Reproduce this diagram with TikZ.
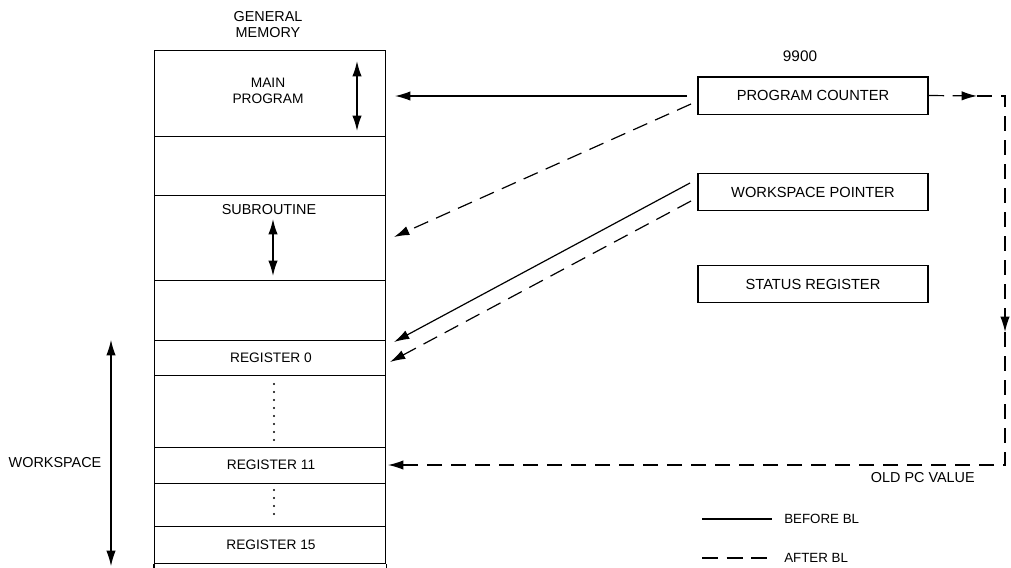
\documentclass[tikz,border=0pt]{standalone}
\usepackage{fontspec}
\setmainfont{Liberation Sans}
\usetikzlibrary{arrows.meta}
\begin{document}
\begin{tikzpicture}[x=0.75pt,y=-0.75pt,
  cell/.style={draw, line width=1.1pt, minimum width=173.25pt, inner sep=0pt, anchor=north west},
  regbox/.style={draw, line width=1pt, minimum width=172.5pt, minimum height=28pt, inner sep=0pt,
    font=\fontsize{11}{13}\selectfont},
  lbl/.style={font=\fontsize{10.3}{12.5}\selectfont, inner sep=0pt, align=center},
  hd/.style={font=\fontsize{10.8}{12}\selectfont, inner sep=0pt, align=center},
  link/.style={line width=0.9pt, -{Latex[length=11.5pt,width=7pt]}},
  afterbl/.style={line width=0.9pt, dash pattern=on 11.5pt off 6.5pt},
  span/.style={line width=0.8pt, {Latex[length=11.5pt,width=7pt]}-{Latex[length=11.5pt,width=7pt]}},
  dotcol/.style={line width=1.8pt, line cap=round, dash pattern=on 0pt off 6pt}]
\useasboundingbox (0,0) rectangle (1011,568);

% general memory stack
\node[hd] (gmhead) at (268,25) {GENERAL\\MEMORY};
\node[cell, minimum height=64.5pt]  (main)  at (154,50)  {};
\node[cell, minimum height=44.25pt] (gap1)  at (154,136) {};
\node[cell, minimum height=63.75pt] (sub)   at (154,195) {};
\node[cell, minimum height=45pt]    (gap2)  at (154,280) {};
\node[cell, minimum height=26.25pt] (r0)    at (154,340) {};
\node[cell, minimum height=54pt]    (dots1) at (154,375) {};
\node[cell, minimum height=27pt]    (r11)   at (154,447) {};
\node[cell, minimum height=32.25pt] (dots2) at (154,483) {};
\node[cell, minimum height=27.75pt] (r15)   at (154,526) {};
\draw[line width=1.1pt] (r15.south west) -- ++(0,8);
\draw[line width=1.1pt] (r15.south east) -- ++(0,8);

\node[lbl] (mainlbl) at (268,91)  {MAIN\\PROGRAM};
\node[lbl, font=\fontsize{10.8}{12}\selectfont] (sublbl) at (269,210) {SUBROUTINE};
\node[lbl] (r0lbl)   at (271,358) {REGISTER 0};
\node[lbl] (r11lbl)  at (271,465) {REGISTER 11};
\node[lbl] (r15lbl)  at (271,545) {REGISTER 15};

% extent arrows inside the memory
\coordinate (mainT) at (357,61);  \coordinate (mainB) at (357,131);
\coordinate (subT)  at (273,219); \coordinate (subB)  at (273,276);
\draw[span, line width=1.1pt] (mainT) -- (mainB);
\draw[span, line width=1.1pt] (subT) -- (subB);

% elided registers
\coordinate (d1T) at (274,384); \coordinate (d1B) at (274,441);
\coordinate (d2T) at (274,490); \coordinate (d2B) at (274,521);
\draw[dotcol] (d1T) -- (d1B);
\draw[dotcol] (d2T) -- (d2B);

% workspace extent
\node[hd] (wslbl) at (55,463) {WORKSPACE};
\coordinate (wsT) at (111,340); \coordinate (wsB) at (111,566);
\draw[span] (wsT) -- (wsB);

% 9900 registers
\node[hd, font=\fontsize{11.5}{13}\selectfont] (cpu) at (800,56) {9900};
\node[regbox] (pc) at (813,95.5)  {PROGRAM COUNTER};
\node[regbox] (wp) at (813,192)   {WORKSPACE POINTER};
\node[regbox] (sr) at (813,284)   {STATUS REGISTER};

% before BL
\coordinate (pcS)  at (687,96);  \coordinate (mainIn) at (395,96);
\coordinate (wpS)  at (690,183); \coordinate (r0InA)  at (394,342);
\draw[link] (pcS) -- (mainIn);
\draw[link] (wpS) -- (r0InA);

% after BL
\coordinate (pcD)  at (691,104); \coordinate (subIn) at (394,237);
\coordinate (wpD)  at (691,201); \coordinate (r0InB) at (390,362);
\draw[link, afterbl] (pcD) -- (subIn);
\draw[link, afterbl] (wpD) -- (r0InB);

% old PC value saved into R11
\coordinate (h1) at (977,96);
\coordinate (c1) at (1005,96);
\coordinate (v1) at (1005,332);
\coordinate (c2) at (1005,465);
\coordinate (r11In) at (388,465);
\draw[link, afterbl] (pc.east) -- (h1);
\draw[link, afterbl] (h1) -- (c1) -- (v1);
\draw[link, afterbl] (v1) -- (c2) -- (r11In);
\node[hd, anchor=north east] (oldpc) at (975,472) {OLD PC VALUE};

% legend
\coordinate (lgA1) at (702,519); \coordinate (lgA2) at (772,519);
\coordinate (lgB1) at (702,558); \coordinate (lgB2) at (772,558);
\draw[line width=0.8pt] (lgA1) -- (lgA2);
\draw[line width=0.9pt, dash pattern=on 12pt off 6.5pt] (lgB1) -- (lgB2);
\node[hd, anchor=west, font=\fontsize{10}{12}\selectfont] (before) at (784,519) {BEFORE BL};
\node[hd, anchor=west, font=\fontsize{10}{12}\selectfont] (after)  at (784,558) {AFTER BL};
\end{tikzpicture}
\end{document}
